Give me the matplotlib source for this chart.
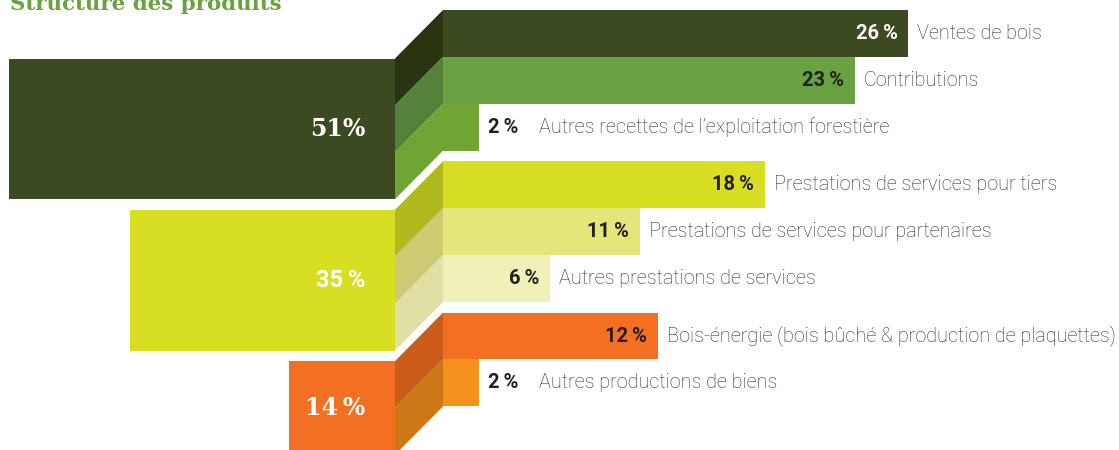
import matplotlib.pyplot as plt
from matplotlib.patches import Rectangle, Polygon

# Data
group_shares = [51, 35, 14]
group_colors = ["#3c4a21", "#d8df22", "#f36f21"]
group_fonts = ["DejaVu Serif", "Roboto", "DejaVu Serif"]
group_pct = ["51%", "35\u2009%", "14\u2009%"]

item_labels = [
    ["Ventes de bois", "Contributions", "Autres recettes de l\u2019exploitation forestière"],
    ["Prestations de services pour tiers", "Prestations de services pour partenaires",
     "Autres prestations de services"],
    ["Bois-énergie (bois bûché & production de plaquettes)", "Autres productions de biens"],
]
item_values = [[26, 23, 2], [18, 11, 6], [12, 2]]
item_colors = [["#3c4a21", "#6aa243", "#70a534"],
               ["#d8df22", "#e3e67a", "#eff1b9"],
               ["#f36f21", "#f5921e"]]
side_colors = [["#283510", "#54823a", "#6ea535"],
               ["#b0b91e", "#cccb72", "#dfdfa6"],
               ["#cb5c19", "#cc7817"]]
pct_white = [[True, False, False], [False, False, False], [False, False]]

# Layout (pixels)
W, H = 1119, 450
x_left = 395      # right edge of the left blocks
x_right = 443     # start of the right bars
dy = 48.5         # vertical offset of the slanted connector
row_h = 46.9
gap = 10.6
px_right = 17.9   # px per % on the right
px_left = 7.57    # px per % on the left
dark = "#231f20"
grey = "#303030"

fig = plt.figure(figsize=(W / 100, H / 100), dpi=100)
ax = fig.add_axes([0, 0, 1, 1])
ax.set_xlim(0, W)
ax.set_ylim(H, 0)
ax.axis("off")

ax.text(10, 10, "Structure des produits", color="#6aa243", fontsize=15.4,
        fontweight="bold", family="DejaVu Serif", va="baseline", ha="left")

y = 10
for g, share in enumerate(group_shares):
    n = len(item_values[g])
    y_top = y
    # left block
    lw = share * px_left
    ax.add_patch(Rectangle((x_left - lw, y_top + dy), lw, n * row_h,
                           facecolor=group_colors[g], edgecolor="none"))
    ax.text(x_left - 30, y_top + dy + n * row_h / 2, group_pct[g], color="white",
            fontsize=17, fontweight="bold", family=[group_fonts[g], "DejaVu Serif"],
            ha="right", va="center")
    for k in range(n):
        r0 = y + k * row_h
        r1 = r0 + row_h
        # slanted connector
        ax.add_patch(Polygon([(x_left, r0 + dy), (x_right, r0), (x_right, r1), (x_left, r1 + dy)],
                             closed=True, facecolor=side_colors[g][k], edgecolor="none"))
        val = item_values[g][k]
        bw = val * px_right
        ax.add_patch(Rectangle((x_right, r0), bw, row_h,
                               facecolor=item_colors[g][k], edgecolor="none"))
        yc = (r0 + r1) / 2
        x_end = x_right + bw
        pct = f"{val}\u2009%"
        if val >= 5:
            ax.text(x_end - 11, yc, pct, color="white" if pct_white[g][k] else dark,
                    fontsize=14.5, fontweight="bold", family=["Roboto", "DejaVu Sans"],
                    ha="right", va="center")
            lx = x_end + 9
        else:
            ax.text(x_end + 9, yc, pct, color=dark, fontsize=14.5, fontweight="bold",
                    family=["Roboto", "DejaVu Sans"], ha="left", va="center")
            lx = x_end + 60
        ax.text(lx, yc, item_labels[g][k], color=grey, fontsize=14.3, fontweight="light",
                family=["Roboto", "DejaVu Sans"], ha="left", va="center")
    y += n * row_h + gap

fig.savefig("out.png", dpi=100)
